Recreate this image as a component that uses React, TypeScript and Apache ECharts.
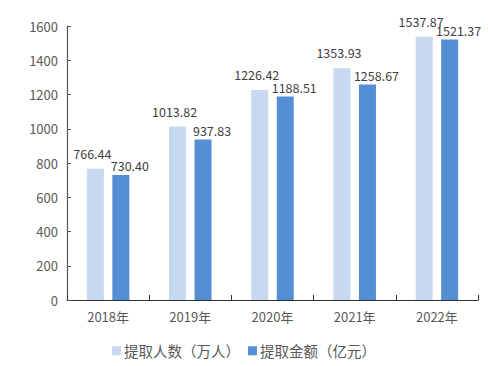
import React, { useEffect, useRef } from "react";
import * as echarts from "echarts";

const categories = ["2018年", "2019年", "2020年", "2021年", "2022年"];
const people = [766.44, 1013.82, 1226.42, 1353.93, 1537.87];
const amount = [730.4, 937.83, 1188.51, 1258.67, 1521.37];
const seriesNames = ["提取人数（万人）", "提取金额（亿元）"];

const FONT = "'Noto Sans CJK SC', 'Noto Sans', sans-serif";

export default function App() {
  const ref = useRef<HTMLDivElement>(null);
  useEffect(() => {
    const chart = echarts.init(ref.current!, null, { renderer: "svg" });
    chart.setOption({
      animation: false,
      backgroundColor: "#ffffff",
      textStyle: { fontFamily: FONT },
      grid: { left: 67, right: 10, top: 26, bottom: 66, containLabel: false },
      legend: {
        bottom: 3,
        left: "center",
        itemWidth: 9,
        itemHeight: 9,
        itemGap: 8,
        icon: "rect",
        textStyle: { fontFamily: FONT, fontSize: 14.5, color: "#595959", padding: [0, 0, 0, -2] },
        data: seriesNames,
      },
      xAxis: {
        type: "category",
        data: categories,
        axisLine: { lineStyle: { color: "#333333", width: 1.2 } },
        axisTick: { show: true, inside: true, length: 5, lineStyle: { color: "#333333" } },
        axisLabel: { fontFamily: FONT, fontSize: 13, color: "#595959", margin: 10 },
      },
      yAxis: {
        type: "value",
        min: 0,
        max: 1600,
        interval: 200,
        axisLine: { show: true, lineStyle: { color: "#555555", width: 1.2 } },
        axisTick: { show: true, inside: true, length: 4, lineStyle: { color: "#555555" } },
        axisLabel: {
          fontFamily: FONT,
          fontSize: 13,
          color: "#595959",
          margin: 9,
          formatter: (v: number) => String(v),
        },
        splitLine: { show: false },
      },
      series: [
        {
          name: seriesNames[0],
          type: "bar",
          data: people,
          barWidth: 17,
          barGap: "50%",
          itemStyle: { color: "#C6D9F0" },
          label: {
            show: true,
            position: "top",
            distance: 9,
            offset: [-3, 0],
            fontFamily: FONT,
            fontSize: 12.5,
            color: "#404040",
            formatter: (p: any) => p.value.toFixed(2),
          },
        },
        {
          name: seriesNames[1],
          type: "bar",
          data: amount,
          barWidth: 17,
          barGap: "50%",
          itemStyle: { color: "#558ED5" },
          label: {
            show: true,
            position: "top",
            distance: 3,
            offset: [9, 0],
            fontFamily: FONT,
            fontSize: 12.5,
            color: "#404040",
            formatter: (p: any) => p.value.toFixed(2),
          },
        },
      ],
    });
    return () => chart.dispose();
  }, []);
  return <div ref={ref} style={{ width: 488, height: 366, position: "absolute", left: 0, top: 0 }} />;
}
